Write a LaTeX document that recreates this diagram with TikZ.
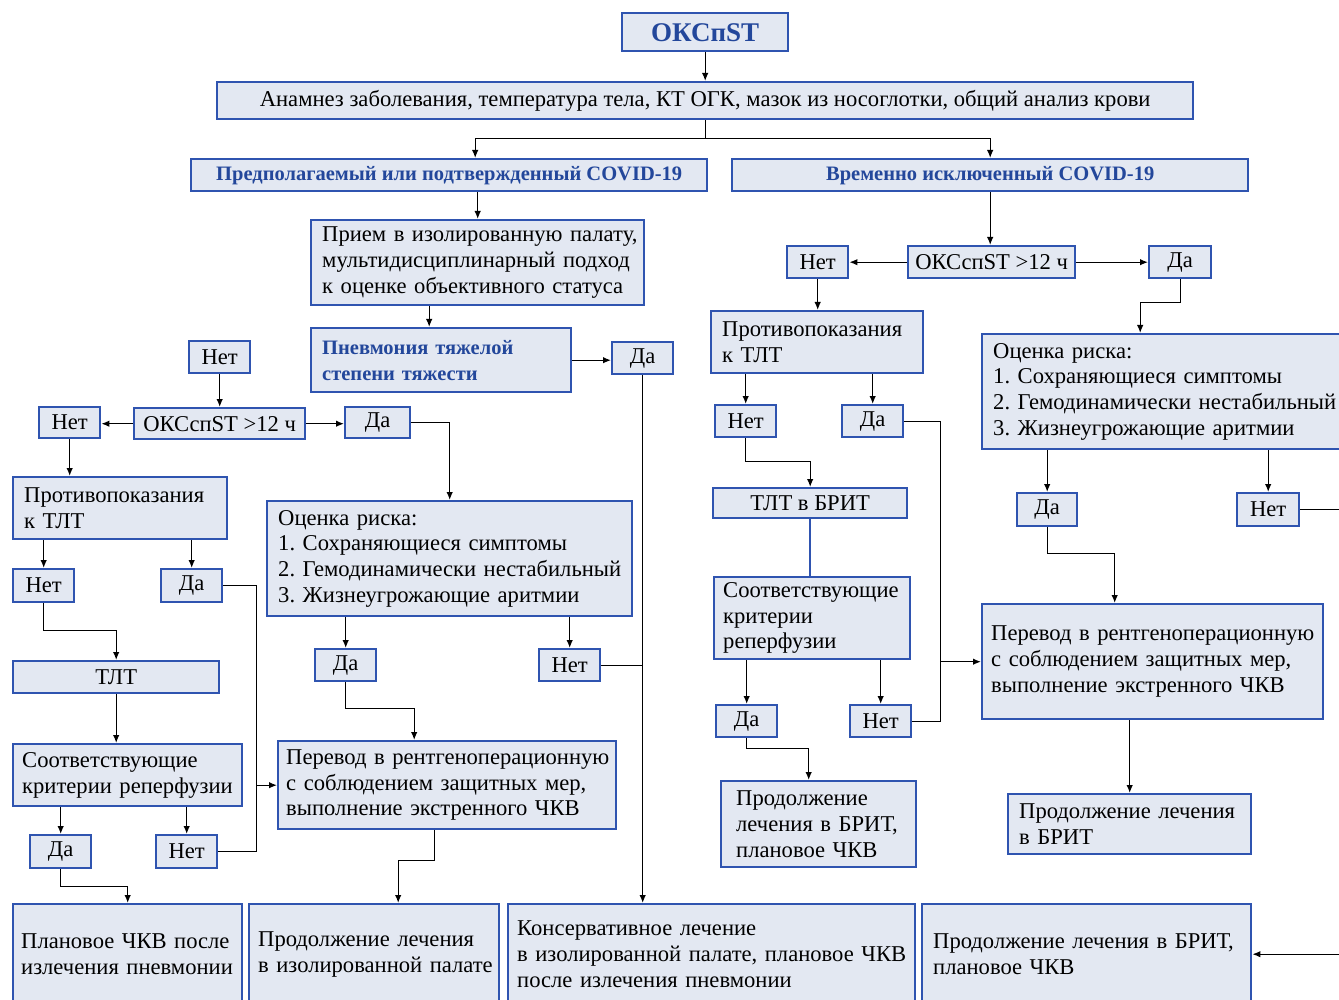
\documentclass[tikz,border=0pt]{standalone}
\usepackage{fontspec}
\setmainfont{Liberation Serif}
\usetikzlibrary{arrows.meta}
\definecolor{boxblue}{HTML}{2F54B0}
\definecolor{boxfill}{HTML}{E3E8F2}
\definecolor{titleblue}{HTML}{23479B}
\frenchspacing
\hyphenpenalty=10000

\begin{document}
\begin{tikzpicture}[x=1pt, y=-1pt,
    box/.style={draw=boxblue, fill=boxfill, line width=2.4pt, anchor=north west,
      inner sep=0pt, font=\fontsize{22.6}{25.7}\selectfont},
    cbox/.style={box, align=center},
    lbox/.style={box, align=left, inner xsep=11pt},
    hl/.style={text=titleblue, font=\fontsize{20.5}{25.7}\selectfont\bfseries},
    yn/.style={cbox, minimum width=61pt, minimum height=32pt},
    con/.style={line width=1.3pt},
    arr/.style={con, -{Latex[length=8pt,width=6.5pt]}},
    tie/.style={draw=boxblue, line width=2.4pt}]
    \useasboundingbox (0,0) rectangle (1339,1000);
    \clip (0,0) rectangle (1339,1000);

    % Top
    \node[cbox, minimum width=166pt, minimum height=38pt, text=titleblue,
      font=\fontsize{27}{30}\selectfont\bfseries] (okc) at (621,12) {ОКСпST};
    \node[cbox, minimum width=976pt, minimum height=37pt] (anam) at (216,81)
      {Анамнез заболевания, температура тела, КТ ОГК, мазок из носоглотки, общий анализ крови};
    \node[cbox, hl, minimum width=516pt, minimum height=32pt] (pred) at (190,158)
      {Предполагаемый или подтвержденный COVID-19};
    \node[cbox, hl, minimum width=516pt, minimum height=32pt] (vrem) at (731,158)
      {Временно исключенный COVID-19};

    % Left branch
    \node[lbox, text width=311pt, minimum height=85pt] (priem) at (310,219)
      {Прием~в~изолированную~палату,\\мультидисциплинарный~подход\\к оценке объективного статуса};
    \node[lbox, hl, text width=238pt, minimum height=64pt] (pnevm) at (310,327)
      {Пневмония тяжелой\\степени тяжести};
    \node[yn] (dapn) at (611,341) {Да};
    \node[yn] (net0) at (188,340) {Нет};
    \node[cbox, minimum width=171pt, minimum height=31pt] (okc1) at (133,407) {ОКСспST >12 ч};
    \node[yn, minimum height=31pt] (net1) at (38,406) {Нет};
    \node[yn, minimum width=65pt, minimum height=31pt] (da1) at (344,406) {Да};
    \node[lbox, text width=192pt, minimum height=62pt] (protiv1) at (12,476)
      {Противопоказания\\к ТЛТ};
    \node[yn, minimum height=33pt] (net2) at (12,568) {Нет};
    \node[yn, minimum height=33pt] (da2) at (160,568) {Да};
    \node[cbox, minimum width=206pt, minimum height=32pt] (tlt) at (12,660) {ТЛТ};
    \node[lbox, inner xsep=9pt, text width=211pt, minimum height=62pt] (sootv1) at (12,743)
      {Соответствующие\\критерии~реперфузии};
    \node[yn, minimum height=33pt] (da3) at (29,834) {Да};
    \node[yn, minimum height=33pt] (net3) at (155,834) {Нет};
    \node[lbox, text width=343pt, minimum height=115pt] (ocen1) at (266,500)
      {Оценка риска:\\1. Сохраняющиеся симптомы\\2.~Гемодинамически~нестабильный\\3. Жизнеугрожающие аритмии};
    \node[yn] (da4) at (314,648) {Да};
    \node[yn] (net4) at (538,648) {Нет};
    \node[lbox, inner xsep=8pt, text width=322pt, minimum height=88pt] (perev1) at (277,740)
      {Перевод~в~рентгеноперационную\\с соблюдением защитных мер,\\выполнение экстренного ЧКВ};

    % Bottom row
    \node[lbox, inner xsep=8pt, text width=213pt, minimum height=100pt] (plan) at (12,903)
      {Плановое ЧКВ после\\излечения~пневмонии};
    \node[lbox, inner xsep=9pt, text width=232pt, minimum height=100pt] (prod1) at (248,903)
      {Продолжение лечения\\в~изолированной~палате};
    \node[lbox, inner xsep=9pt, text width=389pt, minimum height=100pt] (kons) at (507,903)
      {Консервативное лечение\\в~изолированной~палате,~плановое~ЧКВ\\после излечения пневмонии};
    \node[lbox, text width=307pt, minimum height=100pt] (prod2) at (921,903)
      {Продолжение~лечения~в~БРИТ,\\плановое ЧКВ};

    % Right branch
    \node[cbox, minimum width=167pt, minimum height=32pt] (okc2) at (907,245) {ОКСспST >12 ч};
    \node[yn] (net5) at (786,245) {Нет};
    \node[yn, minimum width=62pt] (da5) at (1148,245) {Да};
    \node[lbox, text width=370pt, minimum height=115pt] (ocen2) at (981,333)
      {Оценка риска:\\1. Сохраняющиеся симптомы\\2.~Гемодинамически~нестабильный\\3. Жизнеугрожающие аритмии};
    \node[lbox, text width=190pt, minimum height=62pt] (protiv2) at (710,310)
      {Противопоказания\\к ТЛТ};
    \node[yn] (net6) at (714,404) {Нет};
    \node[yn] (da6) at (841,404) {Да};
    \node[cbox, minimum width=194pt, minimum height=30pt] (tltb) at (712,487) {ТЛТ в БРИТ};
    \node[lbox, inner xsep=9pt, text width=178pt, minimum height=82pt] (sootv2) at (713,576)
      {Соответствующие\\критерии\\реперфузии};
    \node[yn] (da7) at (715,704) {Да};
    \node[yn] (net7) at (849,704) {Нет};
    \node[lbox, inner xsep=15pt, text width=165pt, minimum height=86pt] (prod3) at (720,780)
      {Продолжение\\лечения~в~БРИТ,\\плановое ЧКВ};
    \node[yn, minimum width=60pt, minimum height=33pt] (da8) at (1016,492) {Да};
    \node[yn, minimum width=62pt, minimum height=33pt] (net8) at (1236,492) {Нет};
    \node[lbox, inner xsep=9pt, text width=323pt, minimum height=115pt] (perev2) at (981,603)
      {Перевод~в~рентгеноперационную\\с соблюдением защитных мер,\\выполнение экстренного ЧКВ};
    \node[lbox, text width=221pt, minimum height=60pt] (prod4) at (1007,793)
      {Продолжение~лечения\\в БРИТ};

    % Connectors: top
    \draw[arr] (okc) -- (anam);
    \draw[con] (anam.south) -- ++(0,18) coordinate (split);
    \draw[arr] (split) -| ([xshift=26pt]pred.north);
    \draw[arr] (split) -| (vrem.north);

    % Connectors: left branch
    \draw[arr] (pred.south -| priem.north) -- (priem.north);
    \draw[arr] ([xshift=-12pt]priem.south -| pnevm.north) -- ([xshift=-12pt]pnevm.north);
    \draw[arr] (pnevm.east) -- (pnevm.east -| dapn.west);
    \draw[arr] (dapn.south) -- (dapn.south |- kons.north);
    \draw[arr] (net0.south) -- (net0.south |- okc1.north);
    \draw[arr] (okc1.west) -- (okc1.west -| net1.east);
    \draw[arr] (okc1.east) -- (okc1.east -| da1.west);
    \draw[arr] (da1.east) -| (ocen1.north);
    \draw[arr] (net1.south) -- (net1.south |- protiv1.north);
    \draw[arr] (net2.north |- protiv1.south) -- (net2.north);
    \draw[arr] (da2.north |- protiv1.south) -- (da2.north);
    \draw[arr] (net2.south) -- ++(0,27) -| (tlt.north);
    \draw[arr] (tlt.south) -- (tlt.south |- sootv1.north);
    \draw[arr] (da3.north |- sootv1.south) -- (da3.north);
    \draw[arr] (net3.north |- sootv1.south) -- (net3.north);
    \draw[arr] (da3.south) -- ++(0,17) -| (plan.north);
    \draw[con] (da2.east) -| ([xshift=33pt]da2.east |- net3.east) -- (net3.east);
    \draw[arr] ([xshift=33pt]da2.east |- perev1.west) -- (perev1.west);
    \draw[arr] (da4.north |- ocen1.south) -- (da4.north);
    \draw[arr] (net4.north |- ocen1.south) -- (net4.north);
    \draw[arr] (da4.south) -- ++(0,26) -| ([xshift=-33pt]perev1.north);
    \draw[con] (net4.east) -- (net4.east -| dapn.south);
    \draw[arr] ([xshift=-13pt]perev1.south) -- ++(0,30) -| ([xshift=24pt]prod1.north);

    % Connectors: right branch
    \draw[arr] (vrem.south) -- (vrem.south |- okc2.north);
    \draw[arr] (okc2.west) -- (okc2.west -| net5.east);
    \draw[arr] (okc2.east) -- (okc2.east -| da5.west);
    \draw[arr] (da5.south) -- ++(0,23) -| ([xshift=-40pt]da5.south |- ocen2.north);
    \draw[arr] (net5.south) -- (net5.south |- protiv2.north);
    \draw[arr] (net6.north |- protiv2.south) -- (net6.north);
    \draw[arr] (da6.north |- protiv2.south) -- (da6.north);
    \draw[arr] (net6.south) -- ++(0,23) -| (tltb.north);
    \draw[tie] (tltb.south) -- (tltb.south |- sootv2.north);
    \draw[arr] (da7.north |- sootv2.south) -- (da7.north);
    \draw[arr] (net7.north |- sootv2.south) -- (net7.north);
    \draw[arr] (da7.south) -- ++(0,10) -| ([xshift=-10pt]prod3.north);
    \draw[con] (da6.east) -| ([xshift=36pt]da6.east |- net7.east) -- (net7.east);
    \draw[arr] ([xshift=36pt]da6.east |- perev2.west) -- (perev2.west);
    \draw[arr] (da8.north |- ocen2.south) -- (da8.north);
    \draw[arr] (net8.north |- ocen2.south) -- (net8.north);
    \draw[arr] (da8.south) -- ++(0,26) -| ([xshift=-38pt]perev2.north);
    \draw[arr] (prod4.north |- perev2.south) -- (prod4.north);
    \draw[arr] (net8.east) -- ++(60,0) |- (prod2.east);
\end{tikzpicture}
\end{document}
